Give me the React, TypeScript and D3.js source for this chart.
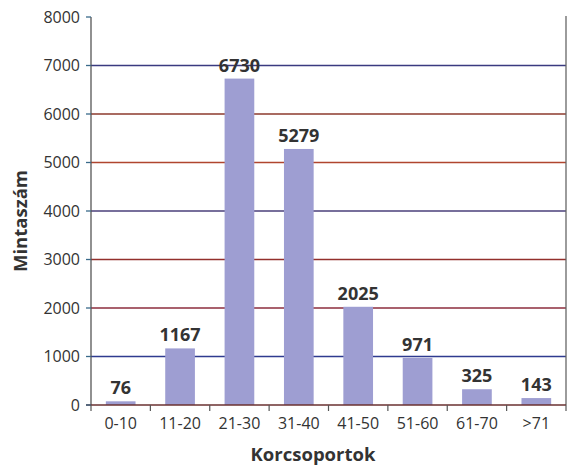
import React from "react";
import * as d3 from "d3";

const categories = ["0-10", "11-20", "21-30", "31-40", "41-50", "51-60", "61-70", ">71"];
const counts = [76, 1167, 6730, 5279, 2025, 971, 325, 143];
const yTicks = [0, 1000, 2000, 3000, 4000, 5000, 6000, 7000, 8000];
// scanned gridlines have a slightly different tint each
const gridColors = ["#2f3b8f", "#8c2c3c", "#93302c", "#4a3f7a", "#b0452e", "#8d3a2c", "#3a3a80"];

const W = 576;
const H = 468;
const margin = { left: 91, right: 10, top: 17, bottom: 63 };
const font = "'Open Sans', 'Noto Sans', sans-serif";

export default function App() {
  const x = d3
    .scaleBand<string>()
    .domain(categories)
    .range([margin.left, W - margin.right])
    .paddingInner(0.5)
    .paddingOuter(0.25);
  const y = d3.scaleLinear().domain([0, 8000]).range([H - margin.bottom, margin.top]);
  const x0 = margin.left;
  const x1 = W - margin.right;
  const y0 = y(0);

  const bounds = categories.map((_, i) => x0 + ((x1 - x0) * i) / categories.length);
  bounds.push(x1);

  return (
    <svg width={W} height={H} style={{ position: "absolute", left: 0, top: 0, background: "#fff" }}>
      {/* gridlines */}
      {yTicks
        .filter((t) => t > 0 && t < 8000)
        .map((t, i) => (
          <line key={t} x1={x0} x2={x1} y1={y(t)} y2={y(t)} stroke={gridColors[i]} strokeWidth={1.3} />
        ))}

      {/* bars */}
      {categories.map((c, i) => (
        <rect key={c} x={x(c)} y={y(counts[i])} width={x.bandwidth()} height={y0 - y(counts[i])} fill="#9e9ed2" />
      ))}

      {/* value labels */}
      {categories.map((c, i) => (
        <text
          key={c}
          x={(x(c) as number) + x.bandwidth() / 2}
          y={y(counts[i]) - 7}
          textAnchor="middle"
          fontFamily={font}
          fontWeight="bold"
          fontSize={18}
          fill="#333"
        >
          {counts[i]}
        </text>
      ))}

      {/* axes frame */}
      <line x1={x0} x2={x0} y1={y(8000)} y2={y0} stroke="#555" strokeWidth={1.3} />
      <line x1={x1} x2={x1} y1={y(8000) - 1} y2={y0} stroke="#666" strokeWidth={1.3} />
      <line x1={x0 - 5} x2={x1} y1={y0} y2={y0} stroke="#6a3030" strokeWidth={1.3} />

      {/* y ticks */}
      {yTicks.map((t) => (
        <g key={t}>
          <line x1={x0 - 5} x2={x0} y1={y(t)} y2={y(t)} stroke="#3a6a8a" strokeWidth={1.3} />
          <text
            x={x0 - 11}
            y={y(t)}
            dy="0.35em"
            textAnchor="end"
            fontFamily={font}
            fontSize={16}
            fill="#333"
          >
            {t}
          </text>
        </g>
      ))}

      {/* x ticks */}
      {bounds.map((b, i) => (
        <line key={i} x1={b} x2={b} y1={y0} y2={y0 + 6} stroke="#555" strokeWidth={1.2} />
      ))}
      {categories.map((c) => (
        <text
          key={c}
          x={(x(c) as number) + x.bandwidth() / 2}
          y={y0 + 24}
          textAnchor="middle"
          fontFamily={font}
          fontSize={16}
          fill="#333"
        >
          {c}
        </text>
      ))}

      {/* axis titles */}
      <text
        x={313}
        y={H - 7}
        textAnchor="middle"
        fontFamily={font}
        fontWeight="bold"
        fontSize={18.5}
        fill="#333"
      >
        Korcsoportok
      </text>
      <text
        transform={`translate(27, ${(y(8000) + y0) / 2 + 10}) rotate(-90)`}
        textAnchor="middle"
        fontFamily={font}
        fontWeight="bold"
        fontSize={18.5}
        fill="#333"
      >
        Mintaszám
      </text>
    </svg>
  );
}
